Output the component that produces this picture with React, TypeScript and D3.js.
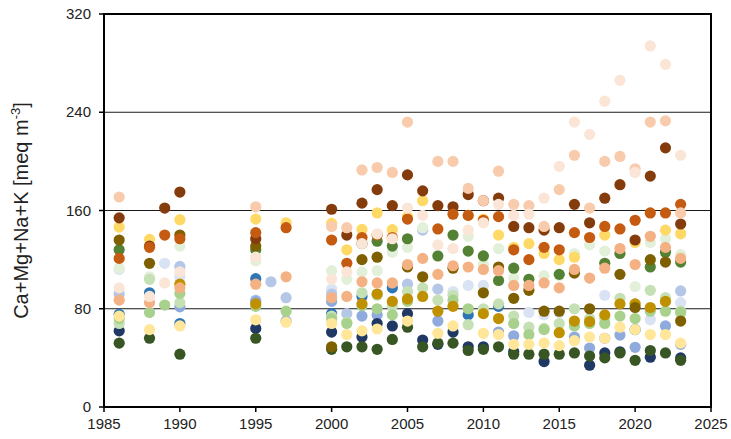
import React from "react";
import * as d3 from "d3";

const years = [1986, 1988, 1989, 1990, 1995, 1996, 1997, 2000, 2001, 2002, 2003, 2004, 2005, 2006, 2007, 2008, 2009, 2010, 2011, 2012, 2013, 2014, 2015, 2016, 2017, 2018, 2019, 2020, 2021, 2022, 2023];

const xTicks = [1985, 1990, 1995, 2000, 2005, 2010, 2015, 2020, 2025];
const yTicks = [0, 80, 160, 240, 320];

type V = number | null;
const darkBrown: V[] = [154, 131, 162, 175, 137, null, null, 161, 140, 166, 177, 164, 189, 176, 164, 163, 173, 168, 170, 147, 146, 144, 146, 165, 150, 170, 181, 136, 188, 211, 149];
const orange: V[] = [121, 130, 140, 137, 142, null, 146, 136, 117, 138, 140, 138, 153, null, 145, 157, 156, 152, 155, 128, 120, 130, 128, 142, 138, 147, 145, 152, 158, 158, 165];
const lightOrange: V[] = [87, 85, null, 97, 100, null, 106, 89, 90, 102, 101, 101, 116, 121, 108, 115, 114, 112, 111, 99, 99, 101, 97, 112, 105, 113, 129, 116, 139, 130, 121];
const peach: V[] = [171, null, null, null, 163, null, null, 147, 146, 193, 195, 191, 232, null, 200, 200, 178, 168, 192, 165, 164, 147, 177, 205, 162, 200, 204, 194, 232, 233, 158];
const lightPeach: V[] = [97, 90, 101, 110, 122, null, null, 104, 110, 133, 141, 137, 162, 156, 132, 129, 144, 150, 165, 156, 157, 170, 196, 232, 222, 249, 266, 191, 294, 279, 205];
const gold: V[] = [146.5, 136.5, null, 152.5, 153, null, 150, 149.5, 128, 144.6, 158, 144.4, 155, 168, null, null, 156, 153, 140, 130, 133, 125, 120, 122, null, 140, null, 134, null, 144, 141];
const lightGold: V[] = [74, 63, null, 66, 71, null, 69, 68, 59, 62, 63.5, null, 70, null, 60, 66, null, 60, 59, 51, 51, 52, 50, 54, 57, 56, 65, 63, 59, 59, 52];
const darkGold: V[] = [null, null, null, 100, 84, null, null, null, null, 84, 92, 86, 88, 90, 78, 82, null, 76, 72, null, null, null, 60.5, 70, 69.5, 75, 84, 84, 81, 86, null];
const olive: V[] = [136, 117, null, 140, 131, null, null, 49, null, 120, 122, null, 114, 106, null, 113, null, 93, 114, 88.5, 95, 78, 78, 109, 80, null, 108, 81, 120, 118, 70];
const green: V[] = [128, null, null, null, 128, null, null, null, null, 133, 135, 131, 137, null, 123, 140, 127, 123, 103, 113, 104, null, 108, null, null, 117, 125, null, 114, 126, 118];
const veryLightGreen: V[] = [113, 106, null, 131, 119, null, null, 111, 104, 110, 111, 126, 130, 146, null, null, 139, 116, 129, 105, null, 107, 107, 125, 132, 127, null, 98, 134, 137, 124];
const lightGreen: V[] = [72, 77, 83, 92.5, 82, null, 78, 72, 68, 82.5, 80, 75, 86, null, null, 87, 80, null, null, 68, 59, 63, null, 66, 68, 68, 74, 72, 78, 78, 77];
const lighterGreen: V[] = [68, 104, null, 85, null, null, null, 74, 69, 93, 91, 82, 94, 97, 87, 91, 67, 80, 84, 74, 65, 64, 68, 80, 72, 72, 88.5, 84, 95, 89, 78];
const darkGreen: V[] = [52, 56, null, 43, 56, null, null, 47, 49, 49, 47, 55, 65, 49, 52, 52, 46, 47, 49, 43, 43, 43, 43, 44, 41.5, 40, 44, 38, 46, 44, 38];
const navy: V[] = [62, null, null, null, 64, null, null, 61, null, 57, 68, 66, 76, 54.5, 51, 61, 49, 49, null, 45, null, 37, null, null, 34, 44, 45, null, 40.5, null, 40];
const blue: V[] = [75.5, 93, null, 68, 104.5, null, null, 76, null, 90, null, 97, null, null, null, null, 75, null, 82, null, null, null, null, null, null, null, null, 63, null, null, null];
const lightBlue: V[] = [null, null, null, 81.6, 86, null, 70, 86, null, 74, 75, null, null, null, 70, null, null, null, 61, 58, null, null, null, 57, 48, 56, 58.6, 48.6, null, 66, 51];
const lighterBlue: V[] = [92, null, null, 114.5, 87, 102, 89, 92, 76, null, 92, null, 100, 144, 96, null, null, null, null, null, null, null, null, null, null, null, null, null, null, null, 94.5];
const veryLightBlue: V[] = [112, null, 117, 106, null, null, null, 96, null, null, null, null, null, null, null, 94, 99, 99, null, null, 77, 75, 77, null, null, 91, null, null, 71, null, 85];

const seriesList: { values: V[]; color: string }[] = [
  { values: veryLightBlue, color: "#DAE3F3" },
  { values: lighterBlue, color: "#B4C7E7" },
  { values: lightBlue, color: "#8FAADC" },
  { values: blue, color: "#2E75B6" },
  { values: navy, color: "#1F3864" },
  { values: veryLightGreen, color: "#E2F0D9" },
  { values: lighterGreen, color: "#C5E0B4" },
  { values: lightGreen, color: "#A9D18E" },
  { values: green, color: "#548235" },
  { values: darkGreen, color: "#375623" },
  { values: lightGold, color: "#FFE699" },
  { values: gold, color: "#FFD966" },
  { values: darkGold, color: "#BF9000" },
  { values: olive, color: "#7F6000" },
  { values: darkBrown, color: "#843C0C" },
  { values: orange, color: "#C55A11" },
  { values: lightOrange, color: "#F4B183" },
  { values: peach, color: "#F8CBAD" },
  { values: lightPeach, color: "#FBE5D6" },
];

const W = 731;
const H = 439;
const left = 104;
const right = 711;
const top = 14;
const bottom = 407;

export default function App() {
  const x = d3.scaleLinear().domain([1985, 2025]).range([left, right]);
  const y = d3.scaleLinear().domain([0, 320]).range([bottom, top]);
  const font = "'Liberation Sans', Arial, sans-serif";
  return (
    <div style={{ position: "absolute", left: 0, top: 0 }}>
      <svg width={W} height={H} style={{ display: "block" }}>
        <rect x={0} y={0} width={W} height={H} fill="#fff" />
        {yTicks.filter((t) => t > 0 && t < 320).map((t) => (
          <line key={"g" + t} x1={left} x2={right} y1={y(t)} y2={y(t)} stroke="#1a1a1a" strokeWidth={1.2} />
        ))}
        {seriesList.map((s, si) => (
          <g key={si}>
            {s.values.map((v, i) =>
              v == null ? null : (
                <circle key={i} cx={x(years[i])} cy={y(v)} r={5.6} fill={s.color} />
              )
            )}
          </g>
        ))}
        <rect x={left} y={top} width={right - left} height={bottom - top} fill="none" stroke="#000" strokeWidth={2} />
        {xTicks.map((t) => (
          <g key={"x" + t}>
            <line x1={x(t)} x2={x(t)} y1={bottom} y2={bottom + 5} stroke="#000" strokeWidth={1.5} />
            <text x={x(t)} y={429} textAnchor="middle" fontFamily={font} fontSize={15} fill="#222">
              {t}
            </text>
          </g>
        ))}
        {yTicks.map((t) => (
          <g key={"y" + t}>
            <line x1={left - 5} x2={left} y1={y(t)} y2={y(t)} stroke="#000" strokeWidth={1.5} />
            <text x={91} y={y(t) + 5} textAnchor="end" fontFamily={font} fontSize={15} fill="#222">
              {t}
            </text>
          </g>
        ))}
        <text
          transform={`translate(28, ${(top + bottom) / 2}) rotate(-90)`}
          textAnchor="middle"
          fontFamily={font}
          fontSize={20}
          fill="#222"
        >
          Ca+Mg+Na+K [meq m<tspan dy={-8} fontSize={13}>-3</tspan><tspan dy={8}>]</tspan>
        </text>
      </svg>
    </div>
  );
}
